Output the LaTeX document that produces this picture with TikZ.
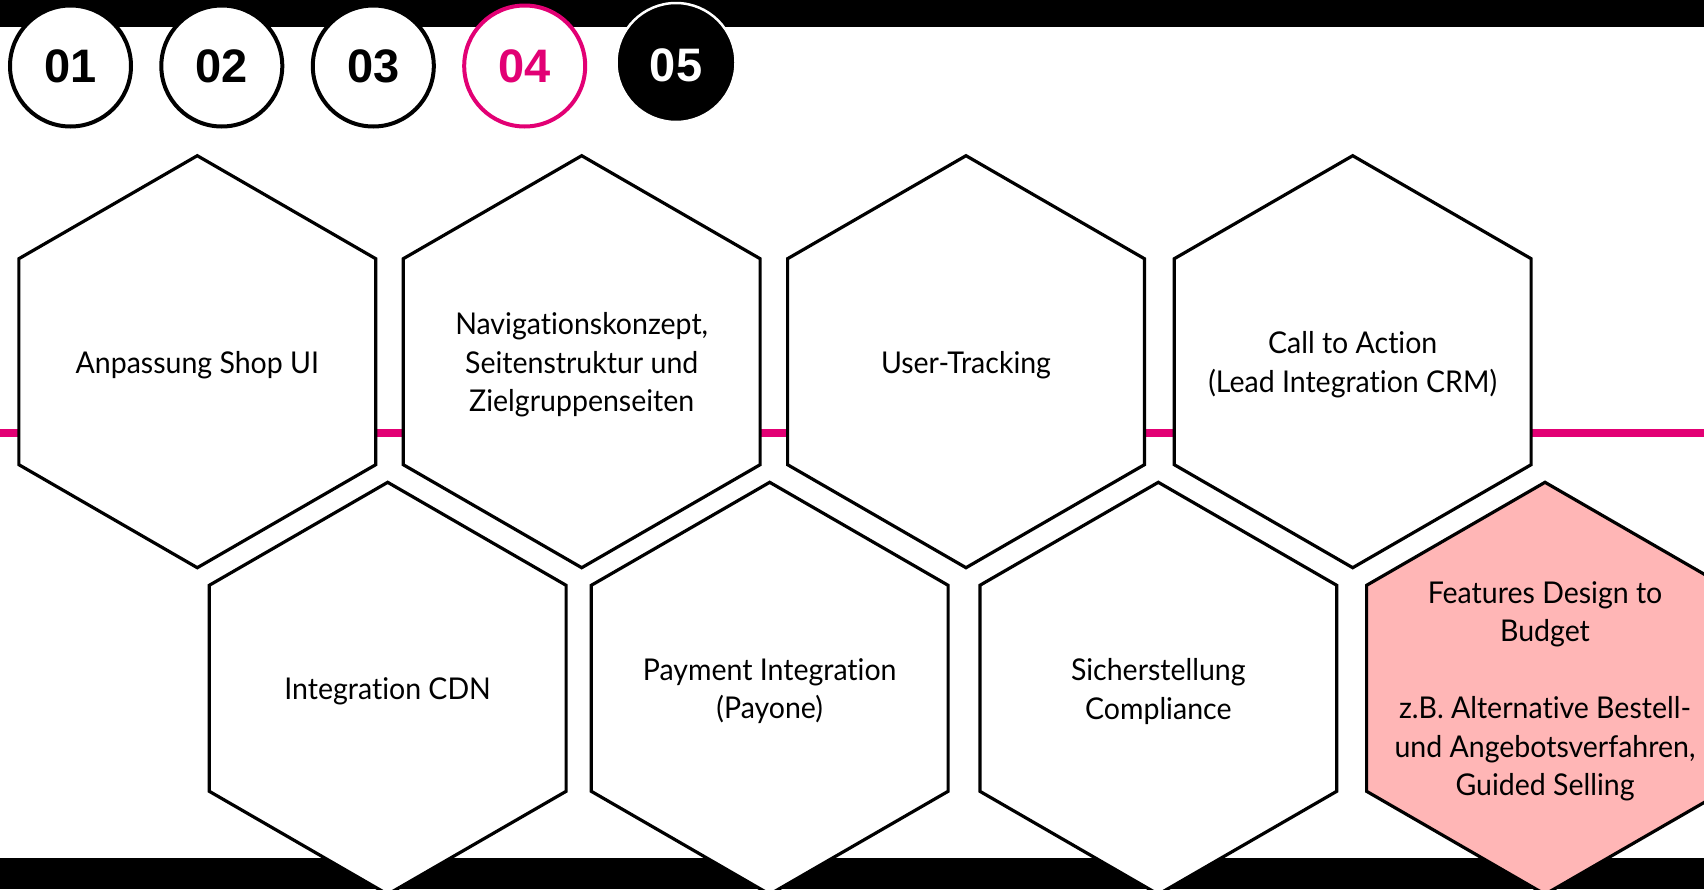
\documentclass[tikz,border=0pt]{standalone}
\usepackage{fontspec}
\setmainfont{Lato}[FakeStretch=0.95, Ligatures=NoCommon]
\newfontfamily\numfont{Liberation Sans}
\usetikzlibrary{shapes.geometric}
\definecolor{tmag}{HTML}{E20074}
\definecolor{tpink}{RGB}{255,182,182}
\begin{document}
\begin{tikzpicture}[x=1pt,y=-1pt,
  hexa/.style={regular polygon, regular polygon sides=6, shape border rotate=30,
    minimum size=412pt, inner sep=0pt, draw=black, line width=3.2pt, fill=white},
  txt/.style={align=center, inner sep=0pt, yshift=-3pt, font=\fontsize{30}{38.5}\selectfont},
  numc/.style={circle, draw=black, line width=4pt, fill=white, minimum size=121pt,
    inner sep=0pt, font=\numfont\bfseries\fontsize{47}{47}\selectfont},
  bar/.style={fill=black}]
\useasboundingbox (0,0) rectangle (1704,889);
\clip (0,0) rectangle (1704,889);
% bars
\fill[bar] (0,0) rectangle (1704,27);
\fill[bar] (0,858) rectangle (1704,889);
% magenta line
\coordinate (ml) at (0,432.5);
\coordinate (mr) at (1704,432.5);
\draw[tmag, line width=8pt] (ml) -- (mr);
% top row hexagons
\node[hexa] (h1) at (197.3,361.7) {};
\node[hexa] (h2) at (581.7,361.7) {};
\node[hexa] (h3) at (966,361.7) {};
\node[hexa] (h4) at (1352.7,361.7) {};
% bottom row hexagons
\node[hexa] (h5) at (387.7,688.3) {};
\node[hexa] (h6) at (769.7,688.3) {};
\node[hexa] (h7) at (1158.3,688.3) {};
\node[hexa, fill=tpink] (h8) at (1545,688.3) {};
% texts
\node[txt] (t1) at (h1.center) {Anpassung Shop UI};
\node[txt] (t2) at (h2.center) {Navigationskonzept,\\Seitenstruktur und\\Zielgruppenseiten};
\node[txt] (t3) at (h3.center) {User-Tracking};
\node[txt] (t4) at (h4.center) {Call to Action\\(Lead Integration CRM)};
\node[txt] (t5) at (h5.center) {Integration CDN};
\node[txt] (t6) at (h6.center) {Payment Integration\\(Payone)};
\node[txt] (t7) at (h7.center) {Sicherstellung\\Compliance};
\node[txt] (t8) at (h8.center) {Features Design to\\Budget\\[38.5pt]z.B. Alternative Bestell-\\und Angebotsverfahren,\\Guided Selling};
% number circles
\node[numc] (c1) at (70.5,66) {01};
\node[numc] (c2) at (221.8,66) {02};
\node[numc] (c3) at (373.3,66) {03};
\node[numc, draw=tmag, text=tmag] (c4) at (524.7,66) {04};
\node[numc, fill=black, draw=white, line width=2.5pt, minimum size=119pt] (c5) at (676,62.5) {};
\node[font=\numfont\bfseries\fontsize{47}{47}\selectfont, text=white, inner sep=0pt] (n5) at ([yshift=-2.5pt]c5.center) {05};
\end{tikzpicture}
\end{document}
